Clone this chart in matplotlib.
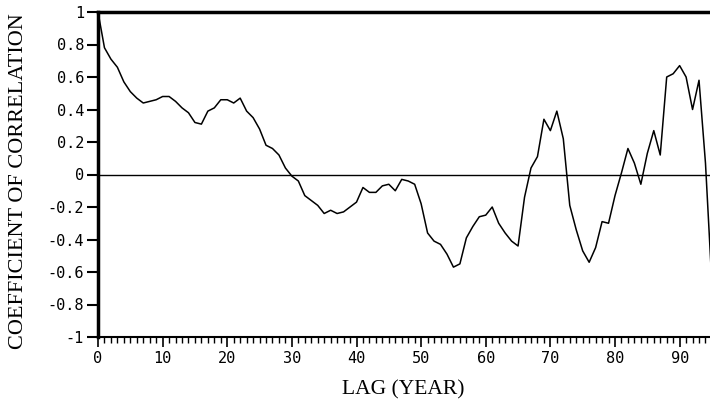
import numpy as np
import matplotlib
matplotlib.use("Agg")
import matplotlib.pyplot as plt
from matplotlib.ticker import MultipleLocator

# lag (years) and correlation coefficient
lag = list(range(0, 96))
corr = [1.00, 0.78, 0.71, 0.66, 0.57, 0.51, 0.47, 0.44, 0.45, 0.46,
        0.48, 0.48, 0.45, 0.41, 0.38, 0.32, 0.31, 0.39, 0.41, 0.46,
        0.46, 0.44, 0.47, 0.39, 0.35, 0.28, 0.18, 0.16, 0.12, 0.04,
        -0.01, -0.04, -0.13, -0.16, -0.19, -0.24, -0.22, -0.24, -0.23, -0.20,
        -0.17, -0.08, -0.11, -0.11, -0.07, -0.06, -0.10, -0.03, -0.04, -0.06,
        -0.18, -0.36, -0.41, -0.43, -0.49, -0.57, -0.55, -0.39, -0.32, -0.26,
        -0.25, -0.20, -0.30, -0.36, -0.41, -0.44, -0.14, 0.04, 0.11, 0.34,
        0.27, 0.39, 0.22, -0.19, -0.34, -0.47, -0.54, -0.45, -0.29, -0.30,
        -0.13, 0.01, 0.16, 0.07, -0.06, 0.13, 0.27, 0.12, 0.60, 0.62,
        0.67, 0.60, 0.40, 0.58, 0.07, -0.68]

yticks = [1, 0.8, 0.6, 0.4, 0.2, 0, -0.2, -0.4, -0.6, -0.8, -1]
xticks = [0, 10, 20, 30, 40, 50, 60, 70, 80, 90]

fig = plt.figure(figsize=(7.10, 4.12), dpi=100)
ax = fig.add_axes([98/710, 1-337/412, 1-98/710, (337-12)/412])

ax.plot(lag, corr, color="black", lw=1.1)
ax.axhline(0, color="black", lw=1.0)

ax.set_xlim(0, 94.7)
ax.set_ylim(-1, 1)

ax.spines["right"].set_visible(False)
ax.spines["top"].set_linewidth(2.5)
ax.spines["left"].set_linewidth(2.5)
ax.spines["bottom"].set_linewidth(1.5)

ax.set_yticks(yticks)
ax.set_yticklabels(["1" if v == 1 else "-1" if v == -1 else ("0" if v == 0 else f"{v:.1f}")
                    for v in yticks])
ax.set_xticks(xticks)
ax.set_xticklabels([str(v) for v in xticks])
ax.xaxis.set_minor_locator(MultipleLocator(1))

mono = "DejaVu Sans Mono"
for t in ax.get_xticklabels() + ax.get_yticklabels():
    t.set_fontfamily(mono)
    t.set_fontsize(11)

ax.tick_params(axis="y", which="major", direction="out", length=8, width=1.5, pad=2)
ax.tick_params(axis="x", which="major", direction="out", length=7, width=1.2, pad=3)
ax.tick_params(axis="x", which="minor", direction="out", length=4, width=1.0)

fig.text(19/710, 1-181/412, "COEFFICIENT OF CORRELATION", rotation=90,
         ha="center", va="center", family="Liberation Serif", fontsize=16)
fig.text(403/710, 1-390/412, "LAG (YEAR)", ha="center", va="center",
         family="Liberation Serif", fontsize=15.5)

fig.savefig("out.png", dpi=100)
